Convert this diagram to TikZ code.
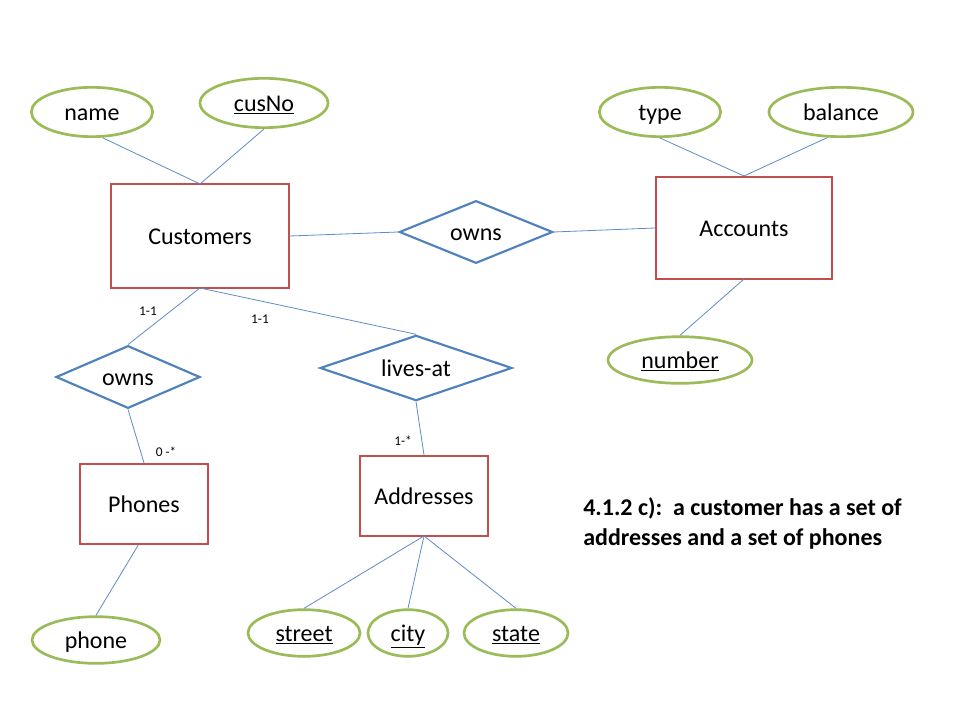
\documentclass[tikz,border=0pt]{standalone}
\usepackage{fontspec}
\setmainfont{Carlito}
\usetikzlibrary{shapes.geometric}
\definecolor{EntRed}{RGB}{192,80,77}
\definecolor{AttrGreen}{RGB}{155,187,89}
\definecolor{RelBlue}{RGB}{79,129,189}
\definecolor{LinkBlue}{RGB}{95,140,200}
\tikzset{
  label18/.style={font=\fontsize{18}{22}\selectfont,inner sep=0pt,text height=14pt,text depth=1.5pt},
  entity/.style={label18,draw=EntRed,line width=1.6pt,fill=white},
  attr/.style={label18,ellipse,draw=AttrGreen,line width=2pt,fill=white},
  rel/.style={label18,diamond,draw=RelBlue,line width=1.6pt,fill=white,aspect=2.4},
  link/.style={draw=LinkBlue,line width=0.6pt},
  card/.style={font=\fontsize{10}{12}\selectfont,inner sep=0pt},
  caption/.style={font=\bfseries\fontsize{18}{22.5}\selectfont,align=left,inner sep=0pt}
}
\begin{document}
\begin{tikzpicture}[x=0.75pt,y=-0.75pt]
  \useasboundingbox[fill=white] (0,0) rectangle (960,720);
  \coordinate (custTop) at (200,184);
  \coordinate (custBot) at (200,288);
  \coordinate (accTop) at (744,176);
  \coordinate (accBot) at (744,279);
  \coordinate (addrBot) at (424,536);
  % entities
  \node[entity,minimum width=133pt,minimum height=78pt] (cust) at (200,236) {Customers};
  \node[entity,minimum width=132pt,minimum height=77pt] (acc) at (744,228) {Accounts};
  \node[entity,minimum width=96pt,minimum height=60pt] (phones) at (144,504) {Phones};
  \node[entity,minimum width=96pt,minimum height=60pt] (addr) at (424,496) {Addresses};
  % relationships
  \node[rel,minimum width=115pt,minimum height=47pt] (ownsAcc) at (476,232) {owns};
  \node[rel,minimum width=108pt,minimum height=47pt] (ownsPh) at (128,377) {owns};
  \node[rel,minimum width=144pt,minimum height=49pt] (lives) at (416,368) {lives-at};
  % attributes
  \node[attr,minimum width=91pt,minimum height=37pt] (name) at (92,112) {name};
  \node[attr,minimum width=96pt,minimum height=37pt] (cusNo) at (264,103) {\underline{cusNo}};
  \node[attr,minimum width=91pt,minimum height=37pt] (type) at (660,112) {type};
  \node[attr,minimum width=108pt,minimum height=37pt] (balance) at (841,112) {balance};
  \node[attr,minimum width=108pt,minimum height=35pt] (number) at (680,360) {\underline{number}};
  \node[attr,minimum width=96pt,minimum height=35pt] (phone) at (96,640) {phone};
  \node[attr,minimum width=84pt,minimum height=35pt] (street) at (304,633) {\underline{street}};
  \node[attr,minimum width=60pt,minimum height=35pt] (city) at (408,633) {\underline{city}};
  \node[attr,minimum width=78pt,minimum height=35pt] (state) at (516,633) {\underline{state}};
  % links
  \draw[link] (name.-68) -- (custTop);
  \draw[link] (cusNo.south) -- (custTop);
  \draw[link] (type.south) -- (accTop);
  \draw[link] (balance.-118) -- (accTop);
  \draw[link] (accBot) -- (number.north);
  \draw[link] (cust.east) -- (ownsAcc.west);
  \draw[link] (ownsAcc.east) -- (acc.west);
  \draw[link] (custBot) -- (ownsPh.north);
  \draw[link] (custBot) -- (lives.north);
  \draw[link] (ownsPh.south) -- (phones.north);
  \draw[link] (lives.south) -- (addr.north);
  \draw[link] (phones.-98) -- (phone.north);
  \draw[link] (addrBot) -- (street.north);
  \draw[link] (addrBot) -- (city.north);
  \draw[link] (addrBot) -- (state.north);
  % cardinalities
  \node[card] (c1) at (148,311) {1-1};
  \node[card] (c2) at (260,319) {1-1};
  \node[card] (c3) at (166,452) {0 -*};
  \node[card] (c4) at (403,441) {1-*};
  % caption
  \node[caption,anchor=north west] (cap) at (583,497) {4.1.2 c):\ \ a customer has a set of\\addresses and a set of phones};
\end{tikzpicture}
\end{document}
